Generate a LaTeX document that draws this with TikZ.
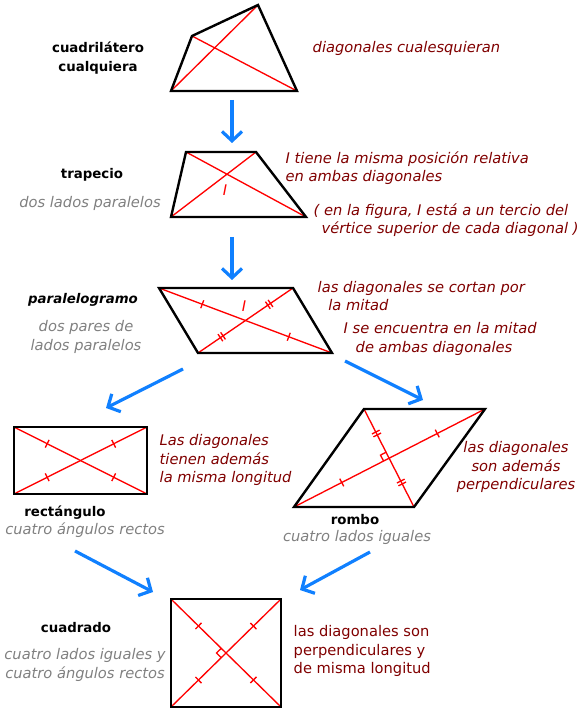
\documentclass[tikz,border=0pt]{standalone}
\usepackage{fontspec}
\setmainfont{DejaVu Sans}
\usetikzlibrary{arrows.meta,calc,decorations.markings}

\definecolor{diagred}{RGB}{255,0,0}
\definecolor{notered}{RGB}{128,0,0}
\definecolor{notegray}{RGB}{128,128,128}
\definecolor{flowblue}{RGB}{16,128,255}

\tikzset{
  side/.style={draw=black,line width=1.8pt},
  diag/.style={draw=diagred,line width=1pt},
  flow/.style={draw=flowblue,line width=2.4pt,-{Straight Barb[length=7pt,width=15pt]}},
  figname/.style={font=\fontsize{10}{14}\selectfont\bfseries,align=center},
  prop/.style={text=notegray,font=\fontsize{11}{14}\selectfont\itshape,align=center},
  note/.style={text=notered,font=\fontsize{11}{14}\selectfont\itshape,align=left,anchor=west},
  label I/.style={text=diagred,font=\fontsize{11}{14}\selectfont\itshape},
  onetick/.style={postaction={decorate,decoration={markings,
      mark=at position 0.25 with {\draw[diag] (0,-3.2pt) -- (0,3.2pt);},
      mark=at position 0.75 with {\draw[diag] (0,-3.2pt) -- (0,3.2pt);}}}},
  twotick/.style={postaction={decorate,decoration={markings,
      mark=at position 0.25 with {\draw[diag] (-1.2pt,-3.2pt) -- (-1.2pt,3.2pt) (1.2pt,-3.2pt) -- (1.2pt,3.2pt);},
      mark=at position 0.75 with {\draw[diag] (-1.2pt,-3.2pt) -- (-1.2pt,3.2pt) (1.2pt,-3.2pt) -- (1.2pt,3.2pt);}}}}
}

\begin{document}
\begin{tikzpicture}[x=0.75pt,y=-0.75pt]
  \useasboundingbox (0,0) rectangle (577,712);

  % cuadrilatero cualquiera
  \coordinate (q1) at (171,91);
  \coordinate (q2) at (192,36);
  \coordinate (q3) at (258,5);
  \coordinate (q4) at (297,91);
  \draw[diag] (q1) -- (q3) (q2) -- (q4);
  \draw[side] (q1) -- (q2) -- (q3) -- (q4) -- cycle;
  \node[figname] (cuadname) at (98,58) {cuadrilátero\\cualquiera};
  \node[note] (cuadnote) at (308,48) {diagonales cualesquieran};

  % trapecio
  \coordinate (t1) at (171,217);
  \coordinate (t2) at (186,152);
  \coordinate (t3) at (256,152);
  \coordinate (t4) at (306,217);
  \draw[diag] (t1) -- (t3) (t2) -- (t4);
  \draw[side] (t1) -- (t2) -- (t3) -- (t4) -- cycle;
  \node[label I] (trapI) at (225,190) {I};
  \node[figname] (trapname) at (92,175) {trapecio};
  \node[prop] (trapprop) at (90,203) {dos lados paralelos};
  \node[note] (trapnote) at (281,168) {I tiene la misma posición relativa\\en ambas diagonales};
  \node[note] (trapnote2) at (309,220) {( en la figura, I está a un tercio del\\\hspace*{6pt}vértice superior de cada diagonal )};

  % paralelogramo
  \coordinate (p1) at (198,353);
  \coordinate (p2) at (159,288);
  \coordinate (p3) at (293,288);
  \coordinate (p4) at (332,353);
  \draw[diag,onetick] (p2) -- (p4);
  \draw[diag,twotick] (p1) -- (p3);
  \draw[side] (p1) -- (p2) -- (p3) -- (p4) -- cycle;
  \node[label I] (paraI) at (244,306) {I};
  \node[figname,font=\fontsize{10}{14}\selectfont\bfseries\itshape] (paraname) at (83,300) {paralelogramo};
  \node[prop] (paraprop) at (86,337) {dos pares de\\lados paralelos};
  \node[note] (paranote) at (313,296) {las diagonales se cortan por\\\hspace*{8pt}la mitad};
  \node[note] (paranote2) at (339,339) {I se encuentra en la mitad\\\hspace*{9pt}de ambas diagonales};

  % rectangulo
  \coordinate (r1) at (14,494);
  \coordinate (r2) at (14,427);
  \coordinate (r3) at (147,427);
  \coordinate (r4) at (147,494);
  \draw[diag,onetick] (r2) -- (r4);
  \draw[diag,onetick] (r1) -- (r3);
  \draw[side] (r1) -- (r2) -- (r3) -- (r4) -- cycle;
  \node[figname] (rectname) at (65,513) {rectángulo};
  \node[prop] (rectprop) at (85,530) {cuatro ángulos rectos};
  \node[note] (rectnote) at (155,460) {Las diagonales\\tienen además\\la misma longitud};

  % rombo
  \coordinate (b1) at (294,507);
  \coordinate (b2) at (364,409);
  \coordinate (b3) at (485,409);
  \coordinate (b4) at (414,507);
  \coordinate (bo) at ($(b1)!0.5!(b3)$);
  \coordinate (bu) at ($(bo)!5pt!(b2)$);
  \coordinate (bv) at ($(bo)!5pt!(b1)$);
  \draw[diag,onetick] (b1) -- (b3);
  \draw[diag,twotick] (b2) -- (b4);
  \draw[diag] (bu) -- ($(bu)+(bv)-(bo)$) -- (bv);
  \draw[side] (b1) -- (b2) -- (b3) -- (b4) -- cycle;
  \node[figname] (rombname) at (355,520) {rombo};
  \node[prop] (rombprop) at (357,537) {cuatro lados iguales};
  \node[note,align=center,anchor=center] (rombnote) at (516,467) {las diagonales\\son además\\perpendiculares};

  % cuadrado
  \coordinate (s1) at (171,707);
  \coordinate (s2) at (171,599);
  \coordinate (s3) at (281,599);
  \coordinate (s4) at (281,707);
  \coordinate (so) at ($(s1)!0.5!(s3)$);
  \coordinate (su) at ($(so)!5pt!(s2)$);
  \coordinate (sv) at ($(so)!5pt!(s1)$);
  \draw[diag,onetick] (s2) -- (s4);
  \draw[diag,onetick] (s1) -- (s3);
  \draw[diag] (su) -- ($(su)+(sv)-(so)$) -- (sv);
  \draw[side] (s1) -- (s2) -- (s3) -- (s4) -- cycle;
  \node[figname] (sqname) at (76,628) {cuadrado};
  \node[prop] (sqprop) at (85,665) {cuatro lados iguales y\\cuatro ángulos rectos};
  \node[note,font=\fontsize{11}{14}\selectfont] (sqnote) at (289,651) {las diagonales son\\perpendiculares y\\de misma longitud};

  % flechas
  \coordinate (arr1a) at (232,100);
  \coordinate (arr1b) at (232,143);
  \coordinate (arr2a) at (232,237);
  \coordinate (arr2b) at (232,280);
  \coordinate (arr3a) at (183,369);
  \coordinate (arr3b) at (106,408);
  \coordinate (arr4a) at (345,361);
  \coordinate (arr4b) at (423,400);
  \coordinate (arr5a) at (75,551);
  \coordinate (arr5b) at (153,592);
  \coordinate (arr6a) at (370,552);
  \coordinate (arr6b) at (300,590);
  \draw[flow] (arr1a) -- (arr1b);
  \draw[flow] (arr2a) -- (arr2b);
  \draw[flow] (arr3a) -- (arr3b);
  \draw[flow] (arr4a) -- (arr4b);
  \draw[flow] (arr5a) -- (arr5b);
  \draw[flow] (arr6a) -- (arr6b);

\end{tikzpicture}
\end{document}
